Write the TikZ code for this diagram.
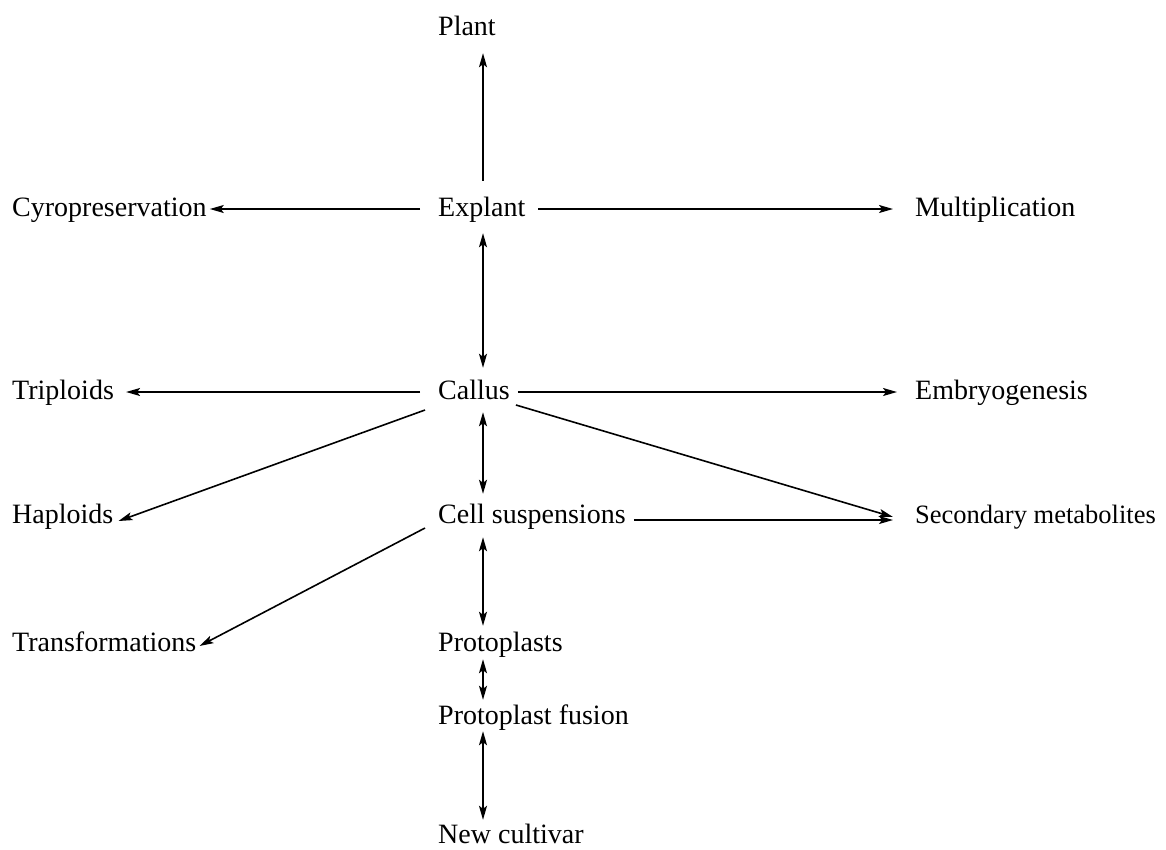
\documentclass[tikz,border=0pt]{standalone}
\usepackage{fontspec}
\setmainfont{Liberation Serif}
\usetikzlibrary{arrows.meta,calc}
\begin{document}
\begin{tikzpicture}[x=1pt,y=1pt,
  lbl/.style={anchor=base west,inner sep=0pt,text height=20pt,text depth=6pt,font=\fontsize{28pt}{30pt}\selectfont},
  tip/.tip={Stealth[length=14pt,width=8pt,inset=3pt]},
  arr/.style={line width=1.6pt,-tip},
  darr/.style={line width=1.6pt,tip-tip}]
\useasboundingbox (0,0) rectangle (1166,-849);
% nodes
\node[lbl] (plant)  at (438,-35)  {Plant};
\node[lbl] (explant) at (438,-216) {Explant};
\node[lbl] (cyro)   at (12,-216)  {Cyropreservation};
\node[lbl] (mult)   at (915,-216) {Multiplication};
\node[lbl] (callus) at (438,-399) {Callus};
\node[lbl] (trip)   at (12,-399)  {Triploids};
\node[lbl] (embryo) at (915,-399) {Embryogenesis};
\node[lbl] (cell)   at (438,-523) {Cell suspensions};
\node[lbl] (hap)    at (12,-523)  {Haploids};
\node[lbl,font=\fontsize{26.5pt}{30pt}\selectfont] (sec) at (915,-523) {Secondary metabolites};
\node[lbl] (trans)  at (12,-651)  {Transformations};
\node[lbl] (proto)  at (438,-651) {Protoplasts};
\node[lbl] (fusion) at (438,-724) {Protoplast fusion};
\node[lbl] (cult)   at (438,-843) {New cultivar};
\coordinate (ax) at (483,0);
% vertical connectors
\draw[arr]  ($(explant.north -| ax)+(0,15)$) -- ($(plant.south -| ax)+(0,-12)$);
\draw[darr] ($(explant.south -| ax)+(0,-11)$) -- ($(callus.north -| ax)+(0,11)$);
\draw[darr] ($(callus.south -| ax)+(0,-7)$) -- ($(cell.north -| ax)+(0,9)$);
\draw[darr] ($(cell.south -| ax)+(0,-8)$) -- ($(proto.north -| ax)+(0,5)$);
\draw[darr] ($(proto.south -| ax)+(0,-2)$) -- ($(fusion.north -| ax)+(0,4)$);
\draw[darr] ($(fusion.south -| ax)+(0,-1)$) -- ($(cult.north -| ax)+(0,3)$);
% horizontal / diagonal connectors
\draw[arr] ($(explant.west)+(-18,0)$) -- ($(cyro.east)+(3,0)$);
\draw[arr] ($(explant.east)+(13,0)$) -- ($(mult.west)+(-22,0)$);
\draw[arr] ($(callus.west)+(-18,0)$) -- ($(trip.east)+(12,0)$);
\draw[arr] ($(callus.east)+(8,0)$) -- ($(embryo.west)+(-18,0)$);
\draw[arr] ($(callus.west)+(-13,-18)$) -- ($(hap.east)+(5,-5)$);
\draw[arr] ($(callus.east)+(6,-13)$) -- ($(sec.west)+(-22,-1)$);
\draw[arr] ($(cell.east)+(8,-4)$) -- ($(sec.west)+(-22,-4)$);
\draw[arr] ($(cell.west)+(-13,-12)$) -- ($(trans.east)+(3,-2)$);
\end{tikzpicture}
\end{document}
